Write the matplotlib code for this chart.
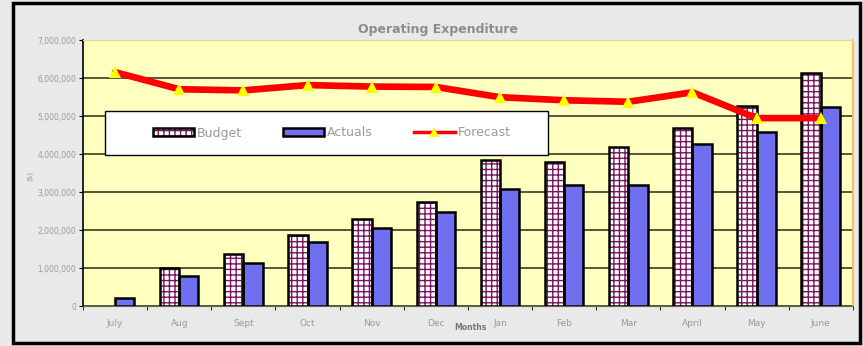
import matplotlib.pyplot as plt
import matplotlib.patches as mpatches
import matplotlib.lines as mlines
from matplotlib.ticker import FuncFormatter, FixedLocator
import numpy as np

months = ["July", "Aug", "Sept", "Oct", "Nov", "Dec", "Jan", "Feb", "Mar", "April", "May", "June"]
budget = [0, 1000000, 1370000, 1870000, 2290000, 2740000, 3850000, 3800000, 4200000, 4680000, 5260000, 6130000]
actuals = [200000, 790000, 1130000, 1680000, 2050000, 2470000, 3080000, 3180000, 3180000, 4260000, 4580000, 5240000]
forecast = [6160000, 5710000, 5680000, 5820000, 5780000, 5770000, 5500000, 5420000, 5380000, 5630000, 4950000, 4950000]

gray_txt = "#9a9a9a"
purple = "#7a1560"
blue = "#6f6ff0"

fig = plt.figure(figsize=(8.63, 3.46), dpi=100)
fig.patch.set_facecolor("#e9e9e9")

# outer frame
fig.add_artist(mpatches.Rectangle((0.015, 0.009), 0.981, 0.983, transform=fig.transFigure,
                                  fill=False, edgecolor="black", linewidth=2.5))

ax = fig.add_axes([0.0962, 0.1156, 0.892, 0.768])
ax.set_facecolor("#ffffc0")

x = np.arange(len(months))
w = 0.3
b = np.array(budget, dtype=float)
show = b > 0
# hatched budget bars: purple grid on white, then black outline
ax.bar(x[show] - w / 2, b[show], w, facecolor="white", edgecolor=purple, hatch="+++", linewidth=0, zorder=3)
ax.bar(x[show] - w / 2, b[show], w, fill=False, edgecolor="black", linewidth=1.8, zorder=4)
ax.bar(x + w / 2, actuals, w, facecolor=blue, edgecolor="black", linewidth=1.8, zorder=3)

ax.plot(x, forecast, color="#ff0000", linewidth=4.8, zorder=5, solid_capstyle="round")
ax.plot(x, forecast, linestyle="none", marker="^", markersize=9, color="#ffff00",
        markeredgewidth=0, zorder=6)

ax.set_xlim(-0.5, 11.5)
ax.set_ylim(0, 7000000)
ax.set_yticks(np.arange(0, 7000001, 1000000))
ax.yaxis.set_major_formatter(FuncFormatter(lambda v, p: f"{int(v):,}"))
ax.yaxis.grid(True, color="#3a3a22", linewidth=1.2, zorder=1)
ax.set_axisbelow(True)

ax.set_xticks(x)
ax.set_xticklabels(months)
ax.xaxis.set_minor_locator(FixedLocator(np.arange(-0.5, 12, 1)))
ax.tick_params(axis="x", which="major", length=0, labelsize=6.5, labelcolor=gray_txt, pad=9)
ax.tick_params(axis="x", which="minor", length=3, color="black", direction="out")
ax.tick_params(axis="y", length=3, color="black", labelsize=5.5, labelcolor=gray_txt, pad=2)

ax.spines["left"].set_color("black")
ax.spines["left"].set_linewidth(1.2)
ax.spines["bottom"].set_color("#6b6440")
ax.spines["top"].set_color("#f4d58a")
ax.spines["right"].set_color("#f4c060")
ax.spines["right"].set_linewidth(1.5)

fig.text(438 / 863, 1 - 30 / 346, "Operating Expenditure", ha="center", va="center",
         fontsize=9, fontweight="bold", color="#8c8c8c")
fig.text(30 / 863, 1 - 176 / 346, "($)", rotation=90, ha="center", va="center",
         fontsize=5, color=gray_txt)
fig.text(470 / 863, 1 - 327 / 346, "Months", ha="center", va="center",
         fontsize=5.5, fontweight="bold", color="#777777")

# legend box (white, black border) with the legend entries centred inside
box = (105 / 863, 1 - 155 / 346, 443 / 863, 44 / 346)
fig.add_artist(mpatches.Rectangle(box[:2], box[2], box[3], transform=fig.transFigure,
                                  facecolor="white", edgecolor="black", linewidth=1.0, zorder=9))

h_budget = mpatches.Patch(facecolor="white", edgecolor=purple, hatch="+++", linewidth=0)
h_budget_edge = mpatches.Patch(fill=False, edgecolor="black", linewidth=1.8)
h_actuals = mpatches.Patch(facecolor=blue, edgecolor="black", linewidth=1.8)
h_forecast = mlines.Line2D([], [], color="#ff0000", linewidth=2.5, marker="^",
                           markersize=7, markerfacecolor="#ffff00", markeredgewidth=0)
leg = fig.legend([(h_budget, h_budget_edge), h_actuals, h_forecast],
                 ["Budget", "Actuals", "Forecast"],
                 loc="center", bbox_to_anchor=(box[0] + 0.006, box[1], box[2], box[3]),
                 ncol=3, frameon=False, fontsize=9, handlelength=3.3, handleheight=0.6,
                 handletextpad=0.2, columnspacing=3.3)
for t in leg.get_texts():
    t.set_color(gray_txt)
leg.set_zorder(10)

fig.savefig("out.png", dpi=100, facecolor=fig.get_facecolor())
